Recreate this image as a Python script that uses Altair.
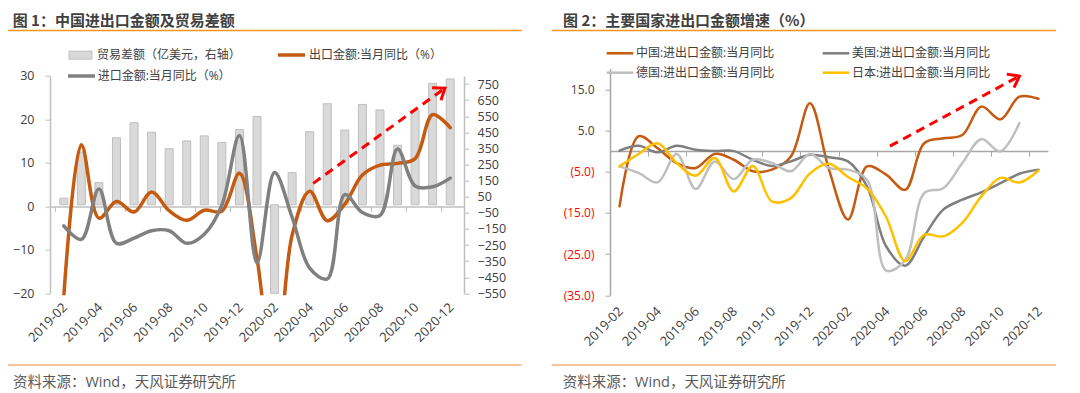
import altair as alt
import pandas as pd

# ---------------- data ----------------
months = ["2019-02", "2019-03", "2019-04", "2019-05", "2019-06", "2019-07", "2019-08",
          "2019-09", "2019-10", "2019-11", "2019-12", "2020-01", "2020-02", "2020-03",
          "2020-04", "2020-05", "2020-06", "2020-07", "2020-08", "2020-09", "2020-10",
          "2020-11", "2020-12"]

trade_balance = [41.2, 326.5, 138.4, 416.6, 509.8, 450.6, 348.3, 396.5, 428.1, 387.3, 467.9,
                 548.0, -619.0, 199.3, 453.4, 628.0, 464.2, 623.3, 589.3, 370.0, 584.4, 754.2, 781.7]
export_yoy = [-20.8, 14.2, -2.7, 1.1, -1.3, 3.3, -1.0, -3.2, -0.9, -1.1, 7.6,
              -12.0, -40.6, -6.6, 3.5, -3.3, 0.5, 7.2, 9.5, 9.9, 11.0, 21.1, 18.1]
import_yoy = [-4.5, -7.6, 4.0, -8.5, -7.3, -5.6, -5.6, -8.5, -6.4, 0.3, 16.3,
              -13.0, 7.8, -2.5, -14.2, -16.7, 2.7, -1.4, -2.1, 13.2, 4.7, 4.5, 6.5]

china = [-13.4, 3.6, 0.7, -2.9, -4.1, -0.7, -2.1, -4.9, -4.5, -1.3, 11.6,
         -4.5, -16.6, -3.7, -5.7, -9.4, 1.9, 3.1, 3.9, 10.8, 7.7, 13.2, 12.7]
usa = [0.1, 1.3, -0.3, 1.3, 0.3, 0.0, 0.0, -2.1, -3.6, -2.5, -0.9,
       -1.5, -2.5, -8.6, -23.1, -27.8, -20.7, -14.2, -11.8, -10.0, -7.8, -5.5, -4.5]
germany = [-3.7, -5.3, -7.6, -0.7, -9.2, -2.5, -6.8, -2.1, -2.9, -4.9, -0.7,
           -4.1, -4.5, -7.0, -29.0, -26.5, -10.2, -9.0, -2.9, 2.9, -0.1, 6.8, None]
japan = [-3.7, -0.7, 1.9, -2.9, -6.0, -1.7, -9.8, -3.6, -12.2, -11.4, -5.4,
         -3.1, -6.3, -9.1, -16.0, -26.7, -20.3, -20.7, -17.4, -11.0, -6.5, -7.6, -4.7]

left_names = ["贸易差额（亿美元，右轴）", "出口金额:当月同比（%）", "进口金额:当月同比（%）"]
right_names = ["中国:进出口金额:当月同比", "美国:进出口金额:当月同比",
               "德国:进出口金额:当月同比", "日本:进出口金额:当月同比"]
right_series = [china, usa, germany, japan]
right_colors = ["#C55A11", "#7F7F7F", "#BFBFBF", "#FFC000"]

titles = ["图 1：中国进出口金额及贸易差额", "图 2：主要国家进出口金额增速（%）"]
source_text = "资料来源：Wind，天风证券研究所"

left_ticks = [-20, -10, 0, 10, 20, 30]
right_axis_ticks = [-550, -450, -350, -250, -150, -50, 50, 150, 250, 350, 450, 550, 650, 750]
pct_ticks = [-35, -25, -15, -5, 5, 15]

arrow_left_x = [14.2, 21.7]
arrow_left_y = [5.3, 27.2]
arrow_right_x = [14.2, 21.0]
arrow_right_y = [1.2, 18.2]

# ---------------- style ----------------
FONT = "Open Sans, Noto Sans CJK SC"
TITLE_FONT = "Noto Sans CJK SC"
TXT = "#404040"
CHEVRON = "M-1,-0.75L0,0L-1,0.75"
H = 226.6
W_L = 414
W_R = 438
TITLE_Y = -48.0
n = len(months)
idx = list(range(n))
label_expr = "[" + ",".join("'%s'" % m for m in months) + "][datum.value]"
tick_vals = idx[::2]
dummy = pd.DataFrame({"d": [0]})


def x_enc(width, offset, pad, dom_color):
    step = width / n
    return alt.X("idx:Q",
                 scale=alt.Scale(domain=[-0.5, n - 0.5], nice=False, zero=False),
                 axis=alt.Axis(values=tick_vals, labelExpr=label_expr, title=None, orient="bottom",
                               offset=offset, domainColor=dom_color, domainWidth=1.5,
                               tickColor=dom_color, tickSize=5, tickWidth=1,
                               tickOffset=-step / 2, labelOffset=step / 2 + 1, labelPadding=pad,
                               labelAngle=315, labelAlign="right", labelBaseline="middle",
                               labelFont=FONT, labelFontSize=13, labelColor=TXT,
                               labelFlush=False, labelOverlap=False, grid=False))


def text(x, y, s, size=12, color=TXT, weight="normal", font=FONT):
    return alt.Chart(dummy).mark_text(text=s, align="left", baseline="middle", font=font,
                                      fontSize=size, color=color, fontWeight=weight).encode(
        x=alt.value(x), y=alt.value(y))


def hline(x1, x2, y, color, width):
    return alt.Chart(dummy).mark_rule(color=color, strokeWidth=width).encode(
        x=alt.value(x1), x2=alt.value(x2), y=alt.value(y), y2=alt.value(y))


# ---------------- left panel ----------------
xl = x_enc(W_L, -88.9, 93.6, "#BFBFBF")
yl = alt.Y("v:Q", scale=alt.Scale(domain=[-20, 30], range=[224.6, 7.3], nice=False, zero=False),
           axis=alt.Axis(orient="left", values=left_ticks, title=None, grid=False,
                         domainColor="#BFBFBF", domainWidth=1.5, tickColor="#BFBFBF", tickSize=5,
                         labelPadding=11, labelFont=FONT, labelFontSize=12.5, labelColor=TXT,
                         labelOverlap=False))
yr = alt.Y("v:Q", scale=alt.Scale(domain=[-550, 800], range=[224.6, 7.3], nice=False, zero=False,
                                  clamp=True),
           axis=alt.Axis(orient="right", values=right_axis_ticks, title=None, grid=False,
                         domainColor="#BFBFBF", domainWidth=1.5, tickColor="#BFBFBF", tickSize=5,
                         labelPadding=8, labelFont=FONT, labelFontSize=12.5, labelColor=TXT,
                         labelOverlap=False))

df_bal = pd.DataFrame({"idx": idx, "v": trade_balance})
df_exp = pd.DataFrame({"idx": idx, "v": export_yoy})
df_imp = pd.DataFrame({"idx": idx, "v": import_yoy})
df_arl = pd.DataFrame({"idx": arrow_left_x, "v": arrow_left_y})

bars = alt.Chart(df_bal).mark_bar(size=8, fill="#D9D9D9", stroke="#BFBFBF", strokeWidth=1).encode(
    x=xl, y=yr)
line_exp = alt.Chart(df_exp).mark_line(interpolate="catmull-rom", strokeWidth=3.5, color="#C55A11",
                                        clip=True, strokeCap="round").encode(x=xl, y=yl)
line_imp = alt.Chart(df_imp).mark_line(interpolate="catmull-rom", strokeWidth=3.5, color="#808080",
                                        clip=True, strokeCap="round").encode(x=xl, y=yl)
arrow_l = alt.Chart(df_arl).mark_line(color="#FF0000", strokeWidth=3, strokeDash=[9, 6]).encode(
    x=xl, y=yl)
head_l = alt.Chart(df_arl.tail(1)).mark_point(shape=CHEVRON, size=420, filled=False, color="#FF0000",
                                              strokeWidth=3, angle=325, opacity=1).encode(x=xl, y=yl)

inner_l = alt.layer(line_exp, line_imp, arrow_l, head_l)

decor_l = [
    text(-37.3, TITLE_Y, titles[0], size=15, weight="bold", font=TITLE_FONT),
    hline(-42, 471.7, -38.2, "#F7941D", 1.5),
    alt.Chart(dummy).mark_rect(fill="#D9D9D9", stroke="#BFBFBF", strokeWidth=1).encode(
        x=alt.value(19), x2=alt.value(42), y=alt.value(-17.5), y2=alt.value(-9.5)),
    text(47, -13.7, left_names[0]),
    hline(228, 255, -13.7, "#C55A11", 3.5),
    text(259, -13.7, left_names[1]),
    hline(18, 45, 7.3, "#808080", 3.5),
    text(47.7, 7.3, left_names[2]),
    hline(-42, 471.7, 296.3, "#F6B07A", 1.5),
    text(-37, 314, source_text, size=14.5, color="#595959"),
]

left = alt.layer(bars, inner_l, *decor_l).resolve_scale(y="independent").properties(
    width=W_L, height=H)

# ---------------- right panel ----------------
xr = x_enc(W_R, -144.2, 152.9, "#A6A6A6")
yp = alt.Y("v:Q", scale=alt.Scale(domain=[-35, 20], nice=False, zero=False),
           axis=alt.Axis(orient="left", values=pct_ticks, title=None, grid=False,
                         labelExpr="datum.value < 0 ? '(' + format(-datum.value, '.1f') + ')' : format(datum.value, '.1f')",
                         labelColor={"expr": "datum.value < 0 ? '#FF0000' : '#404040'"},
                         domainColor="#A6A6A6", domainWidth=1.5, tickColor="#A6A6A6", tickSize=5,
                         labelPadding=11, labelFont=FONT, labelFontSize=12, labelOverlap=False))

right_layers = []
for name, vals, col in zip(right_names, right_series, right_colors):
    d = pd.DataFrame({"idx": idx, "v": vals}).dropna()
    right_layers.append(
        alt.Chart(d).mark_line(interpolate="catmull-rom", strokeWidth=2.5, color=col, clip=True,
                               strokeCap="round").encode(x=xr, y=yp))

df_arr = pd.DataFrame({"idx": arrow_right_x, "v": arrow_right_y})
right_layers.append(alt.Chart(df_arr).mark_line(color="#FF0000", strokeWidth=3,
                                                strokeDash=[9, 6]).encode(x=xr, y=yp))
right_layers.append(alt.Chart(df_arr.tail(1)).mark_point(shape=CHEVRON, size=420, filled=False,
                                                         color="#FF0000", strokeWidth=3, angle=332,
                                                         opacity=1).encode(x=xr, y=yp))

leg_pos = [(-3.3, -15.4), (212.7, -15.4), (-3.3, 4.0), (212.7, 4.0)]
decor_r = [
    text(-47, TITLE_Y, titles[1], size=15, weight="bold", font=TITLE_FONT),
    hline(-58.3, 446, -38.2, "#F7941D", 1.5),
    hline(-58.3, 446, 296.3, "#F6B07A", 1.5),
    text(-47.3, 314.6, source_text, size=14.5, color="#595959"),
]
for (lx, ly), name, col in zip(leg_pos, right_names, right_colors):
    decor_r.append(hline(lx, lx + 26.6, ly, col, 2.5))
    decor_r.append(text(lx + 29.3, ly, name))

right = alt.layer(*right_layers, *decor_r).properties(width=W_R, height=H)

chart = alt.hconcat(left, right, spacing=146, bounds="flush").properties(
    padding={"left": 42, "top": 60.7, "right": 1022, "bottom": 324.3},
    autosize=alt.AutoSizeParams(type="none"),
).configure_view(stroke=None)

chart.save("out.html", embed_options={"renderer": "svg", "actions": False})
